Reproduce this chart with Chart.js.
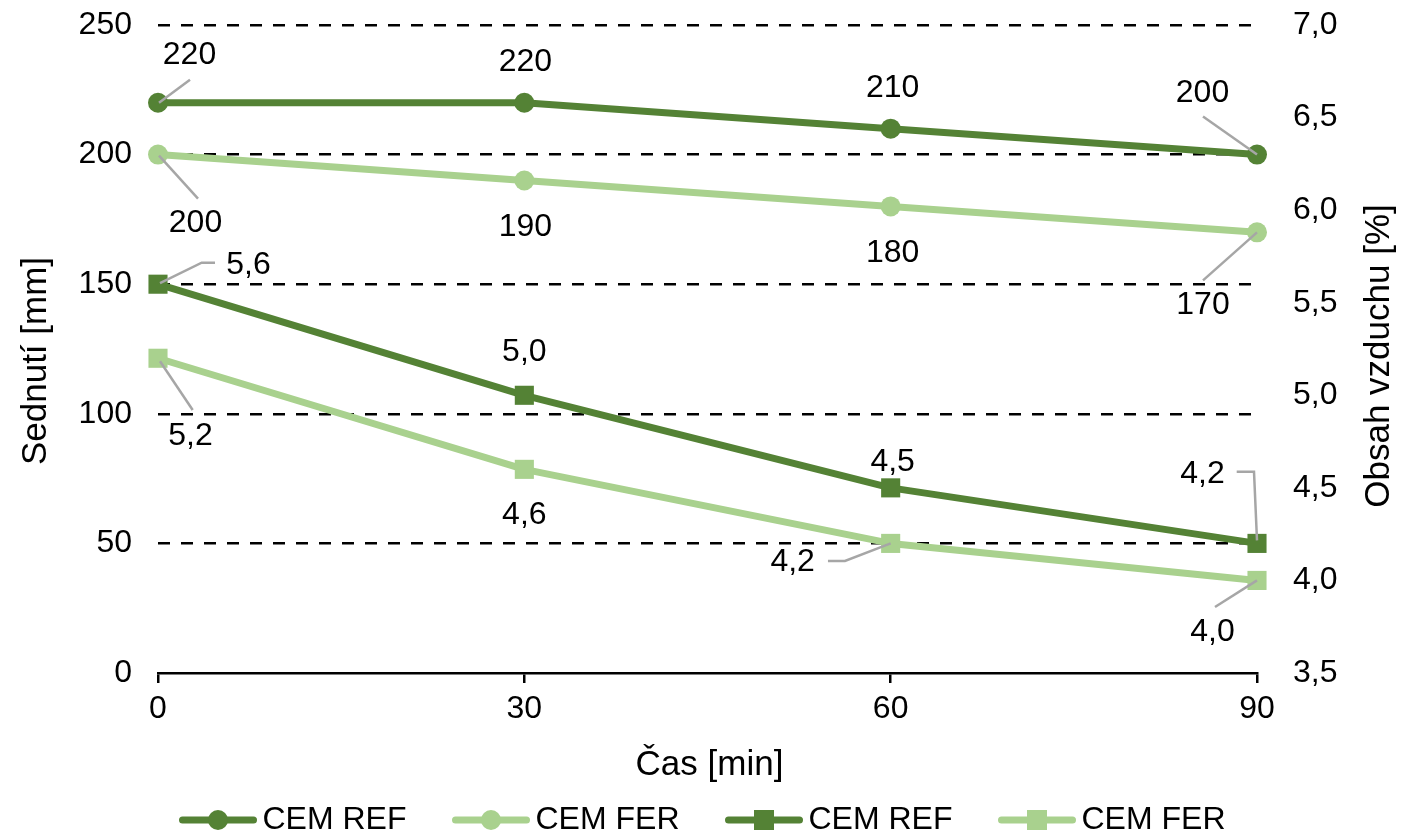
<!DOCTYPE html>
<html>
<head>
<meta charset="utf-8">
<script src="https://cdn.jsdelivr.net/npm/chart.js@4.4.1/dist/chart.umd.min.js"></script>
<style>
  html, body { margin: 0; padding: 0; background: #ffffff; }
  canvas { display: block; }
</style>
</head>
<body>
<canvas id="chart" width="1415" height="838"></canvas>
<script>
// Time after mixing [min]
const timeMin = [0, 30, 60, 90];
// Slump [mm]
const slumpRef = [220, 220, 210, 200];
const slumpFer = [200, 190, 180, 170];
// Air content [%]
const airRef = [5.6, 5.0, 4.5, 4.2];
const airFer = [5.2, 4.6, 4.2, 4.0];

const seriesNames = ['CEM REF', 'CEM FER', 'CEM REF', 'CEM FER'];
const leftTicks = [0, 50, 100, 150, 200, 250];
const rightTicks = [3.5, 4.0, 4.5, 5.0, 5.5, 6.0, 6.5, 7.0];

const axisTitles = { x: 'Čas [min]', left: 'Sednutí [mm]', right: 'Obsah vzduchu [%]' };

const DARK = '#548235';
const LIGHT = '#a9d18e';
const LEADER = '#a6a6a6';
const FONT = "'Liberation Sans', Arial, sans-serif";

const comma = v => v.toFixed(1).replace('.', ',');

// Label placement per point: [dx, dy, leader polyline offsets or null]
const labelPlacement = [
  [[31.5, -48, [[32, -23], [1, 0]]], [1, -41, null], [2, -41, null], [-54.5, -61, [[-54, -38], [0, 0]]]],
  [[37.5, 69, [[40, 44], [1, 1]]], [1, 47, null], [2, 47, null], [-54, 72.5, [[-54, 48], [0, 0]]]],
  [[90.5, -19, [[57, -21.5], [43.7, -21.5], [2, -1]]], [0, -43, null], [2, -26, null], [-54.5, -69.5, [[-20.3, -71.7], [-3, -71.7], [0, -3]]]],
  [[32.5, 78, [[34.7, 51.7], [2, 3]]], [0, 46, null], [-98, 19, [[-62.7, 17.6], [-45.7, 17.6], [0, 0]]], [-44.5, 52, [[-42, 26.6], [0, 0]]]]
];

function legendIcon(color, style) {
  const c = document.createElement('canvas');
  c.width = 78; c.height = 26;
  const g = c.getContext('2d');
  g.strokeStyle = color; g.lineWidth = 7; g.lineCap = 'round';
  g.beginPath(); g.moveTo(3.5, 13); g.lineTo(74.5, 13); g.stroke();
  g.fillStyle = color;
  if (style === 'circle') {
    g.beginPath(); g.arc(39, 13, 10, 0, Math.PI * 2); g.fill();
  } else {
    g.fillRect(39 - 10, 13 - 10, 20, 20);
  }
  return c;
}
const legendIcons = [
  legendIcon(DARK, 'circle'), legendIcon(LIGHT, 'circle'),
  legendIcon(DARK, 'rect'), legendIcon(LIGHT, 'rect')
];

function series(name, ys, color, marker, axis) {
  return {
    label: name,
    data: timeMin.map((t, i) => ({ x: t, y: ys[i] })),
    yAxisID: axis,
    borderColor: color,
    backgroundColor: color,
    borderWidth: 7,
    borderJoinStyle: 'round',
    borderCapStyle: 'round',
    pointStyle: marker,
    pointRadius: marker === 'circle' ? 10 : 13.5,
    pointHoverRadius: marker === 'circle' ? 10 : 13.5,
    pointBorderWidth: 0,
    pointBackgroundColor: color,
    tension: 0,
    clip: false
  };
}

const pointLabels = {
  id: 'pointLabels',
  afterDatasetsDraw(chart) {
    const ctx = chart.ctx;
    ctx.save();
    chart.data.datasets.forEach((ds, i) => {
      const meta = chart.getDatasetMeta(i);
      const fmt = ds.yAxisID === 'y2' ? comma : (v => String(v));
      meta.data.forEach((pt, j) => {
        const [dx, dy, path] = labelPlacement[i][j];
        if (path) {
          ctx.strokeStyle = LEADER;
          ctx.lineWidth = 2.5;
          ctx.lineJoin = 'miter';
          ctx.beginPath();
          ctx.moveTo(pt.x + path[0][0], pt.y + path[0][1]);
          for (let k = 1; k < path.length; k++) ctx.lineTo(pt.x + path[k][0], pt.y + path[k][1]);
          ctx.stroke();
        }
        ctx.fillStyle = '#000';
        ctx.font = '32px ' + FONT;
        ctx.textAlign = 'center';
        ctx.textBaseline = 'middle';
        ctx.fillText(fmt(ds.data[j].y), pt.x + dx, pt.y + dy);
      });
    });
    ctx.restore();
  }
};

const axisTitlePlugin = {
  id: 'axisTitles',
  afterDraw(chart) {
    const { ctx, chartArea: a } = chart;
    const midY = (a.top + a.bottom) / 2;
    ctx.save();
    ctx.fillStyle = '#000';
    ctx.font = '35px ' + FONT;
    ctx.textAlign = 'center';
    ctx.textBaseline = 'middle';
    ctx.fillText(axisTitles.x, (a.left + a.right) / 2 + 2, 765);
    ctx.save();
    ctx.translate(a.left - 122, midY + 12);
    ctx.rotate(-Math.PI / 2);
    ctx.fillText(axisTitles.left, 0, 0);
    ctx.restore();
    ctx.save();
    ctx.translate(a.right + 122, midY + 7);
    ctx.rotate(-Math.PI / 2);
    ctx.fillText(axisTitles.right, 0, 0);
    ctx.restore();
    ctx.restore();
  }
};

// vertical axes: fixed width, no extra label overhang above/below the plot
const fixVertical = s => { s.width = 158; s.paddingTop = 0; s.paddingBottom = 0; };

new Chart(document.getElementById('chart'), {
  type: 'line',
  data: {
    datasets: [
      series(seriesNames[0], slumpRef, DARK, 'circle', 'y'),
      series(seriesNames[1], slumpFer, LIGHT, 'circle', 'y'),
      series(seriesNames[2], airRef, DARK, 'rect', 'y2'),
      series(seriesNames[3], airFer, LIGHT, 'rect', 'y2')
    ]
  },
  options: {
    responsive: false,
    devicePixelRatio: 1,
    animation: false,
    events: [],
    layout: { padding: { top: 25, left: 0, right: 0, bottom: 0 } },
    scales: {
      x: {
        type: 'linear',
        min: timeMin[0],
        max: timeMin[timeMin.length - 1],
        afterBuildTicks: s => { s.ticks = timeMin.map(v => ({ value: v })); },
        afterFit: s => { s.height = 75; },
        grid: { display: true, drawOnChartArea: false, drawTicks: true, tickLength: 10, color: '#000', lineWidth: 2.5 },
        border: { display: true, color: '#000', width: 2.5 },
        ticks: { color: '#000', font: { family: FONT, size: 32 }, padding: 7, maxRotation: 0 }
      },
      y: {
        position: 'left',
        min: leftTicks[0],
        max: leftTicks[leftTicks.length - 1],
        afterBuildTicks: s => { s.ticks = leftTicks.map(v => ({ value: v })); },
        afterFit: fixVertical,
        grid: {
          color: c => (c.tick && c.tick.value === 0) ? 'rgba(0,0,0,0)' : '#000',
          lineWidth: 2.5,
          drawTicks: false
        },
        border: { display: false, dash: [12, 11] },
        ticks: { color: '#000', font: { family: FONT, size: 32 }, padding: 26 }
      },
      y2: {
        position: 'right',
        min: rightTicks[0],
        max: rightTicks[rightTicks.length - 1],
        afterBuildTicks: s => { s.ticks = rightTicks.map(v => ({ value: v })); },
        afterFit: fixVertical,
        grid: { display: false },
        border: { display: false },
        ticks: { color: '#000', font: { family: FONT, size: 32 }, padding: 28, callback: v => comma(v) }
      }
    },
    plugins: {
      tooltip: { enabled: false },
      legend: {
        position: 'bottom',
        maxHeight: 90,
        labels: {
          usePointStyle: true,
          pointStyleWidth: 57,
          padding: 56,
          color: '#000',
          font: { family: FONT, size: 32 },
          generateLabels: chart => Chart.defaults.plugins.legend.labels.generateLabels(chart)
            .map((item, i) => Object.assign(item, { pointStyle: legendIcons[i] }))
        }
      }
    }
  },
  plugins: [pointLabels, axisTitlePlugin]
});
</script>
</body>
</html>
